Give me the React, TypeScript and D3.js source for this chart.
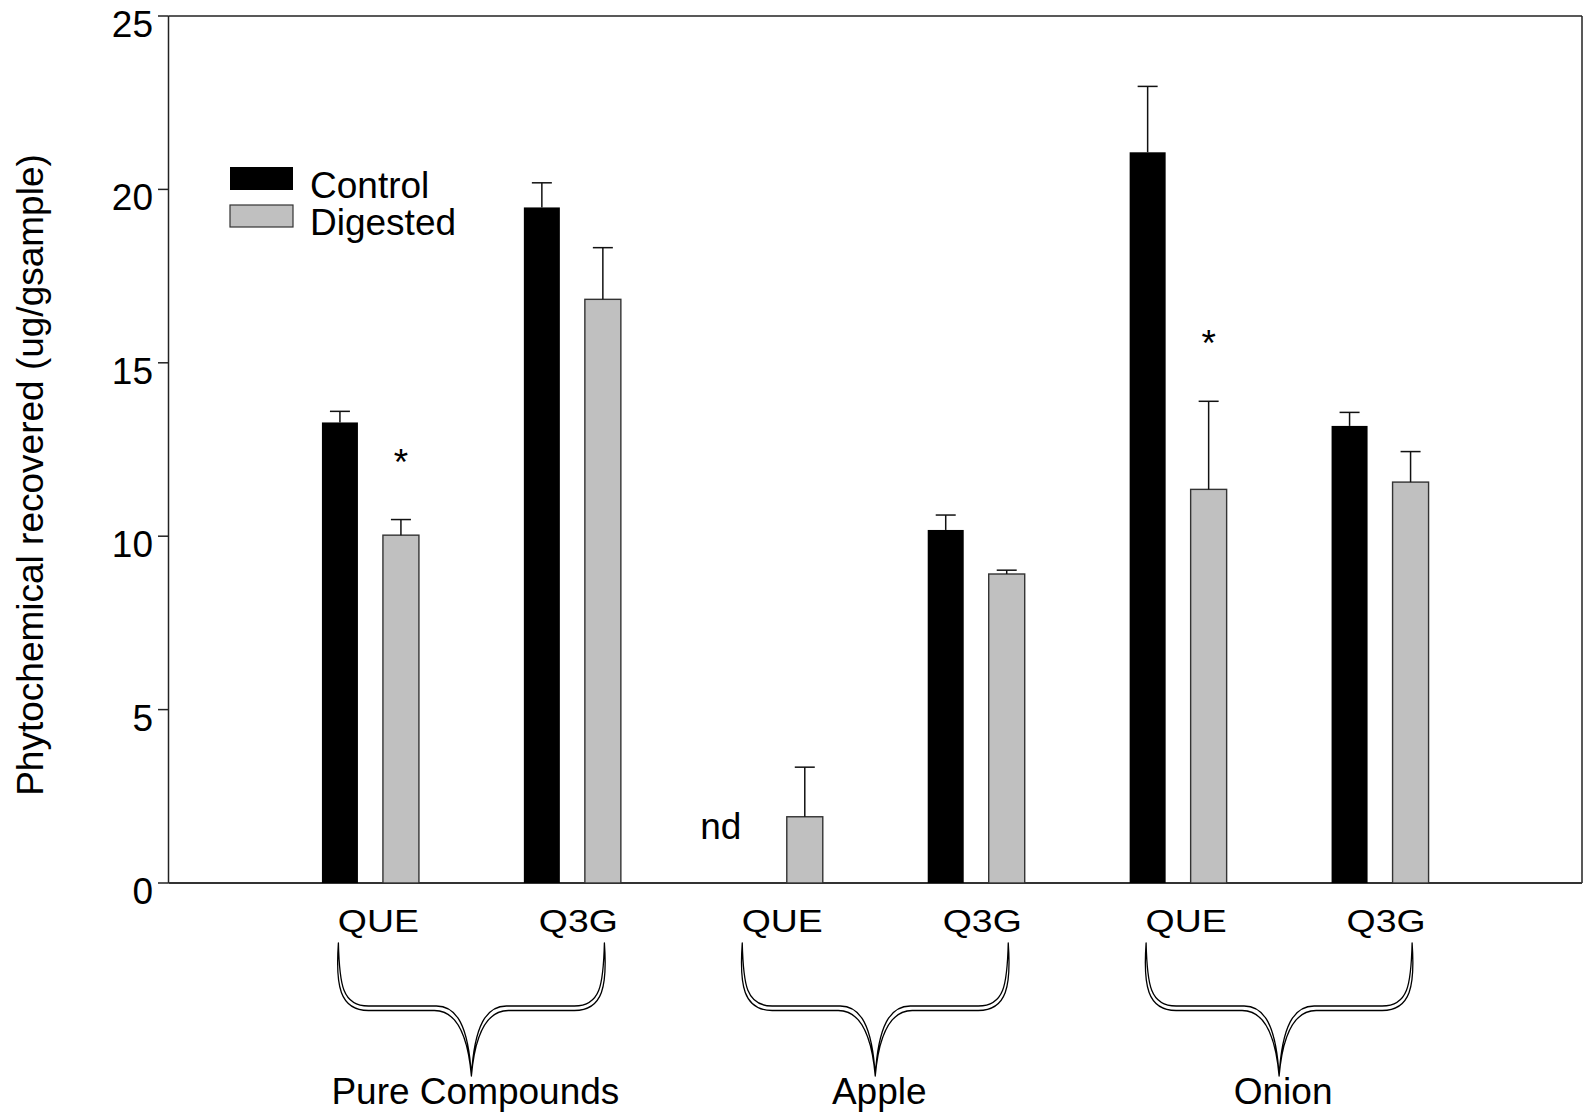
import React from "react";
import * as d3 from "d3";

// Samples along the x axis (two compounds for each source)
const categories = ["Pure-QUE", "Pure-Q3G", "Apple-QUE", "Apple-Q3G", "Onion-QUE", "Onion-Q3G"];
const compoundLabels = ["QUE", "Q3G", "QUE", "Q3G", "QUE", "Q3G"];
const groupLabels = ["Pure Compounds", "Apple", "Onion"];

// Phytochemical recovered (ug/g sample); null = not detected
const controlMeans: (number | null)[] = [13.28, 19.48, null, 10.18, 21.07, 13.18];
const controlErrors = [0.32, 0.71, 0, 0.43, 1.9, 0.39];
const digestedMeans: (number | null)[] = [10.03, 16.83, 1.91, 8.91, 11.35, 11.56];
const digestedErrors = [0.45, 1.49, 1.43, 0.11, 2.54, 0.88];
// Digested samples significantly different from control
const significant = ["Pure-QUE", "Onion-QUE"];

const yTicks = [0, 5, 10, 15, 20, 25];
const seriesNames = ["Control", "Digested"];

const W = 1585;
const H = 1117;
const left = 168.5;
const right = 1582;
const top = 16;
const bottom = 883;
const FONT = "'Liberation Sans', Arial, Helvetica, sans-serif";

const x = d3.scalePoint<string>().domain(categories).range([left, right]).padding(1);
const y = d3.scaleLinear().domain([0, 25]).range([bottom, top]);
const barW = 36;
const barOffset = 30.5;
const capW = 20;

// Tapered curly brace opening upwards, tip at (cx, tipY)
function bracePath(cx: number, half: number): string {
  const topY = 943;
  const hy1 = 1006;
  const hy2 = 1010.5;
  const tipY = 1076;
  const side = (s: number) => {
    const X = (dx: number) => cx + s * dx;
    const l = -half;
    return [
      `M${X(l)},${topY}`,
      `C${X(l + 1)},${topY + 42} ${X(l + 4)},${hy1} ${X(l + 30)},${hy1}`,
      `L${X(-35)},${hy1}`,
      `C${X(-15)},${hy1} ${X(-3)},${hy1 + 19} ${X(0)},${tipY}`,
      `C${X(-4)},${hy2 + 20} ${X(-17)},${hy2} ${X(-37)},${hy2}`,
      `L${X(l + 30)},${hy2}`,
      `C${X(l + 1)},${hy2} ${X(l - 3)},${topY + 42} ${X(l)},${topY}`,
      "Z",
    ].join(" ");
  };
  return side(1) + " " + side(-1);
}

export default function App() {
  const series = [
    { means: controlMeans, errors: controlErrors, dx: -barOffset, fill: "#000000", stroke: "none" },
    { means: digestedMeans, errors: digestedErrors, dx: barOffset, fill: "#c0c0c0", stroke: "#333333" },
  ];
  const groupCenters = groupLabels.map((_, g) => ((x(categories[2 * g]) as number) + (x(categories[2 * g + 1]) as number)) / 2);
  const braceHalf = 133;

  return (
    <svg width={W} height={H} style={{ position: "absolute", left: 0, top: 0, background: "#fff" }} fontFamily={FONT}>
      {/* frame */}
      <line x1={left} x2={right} y1={top} y2={top} stroke="#222" strokeWidth={1.5} />
      <line x1={right} x2={right} y1={top} y2={bottom} stroke="#222" strokeWidth={1.5} />
      <line x1={left} x2={left} y1={top} y2={bottom} stroke="#222" strokeWidth={1.5} />
      <line x1={left} x2={right} y1={bottom} y2={bottom} stroke="#333" strokeWidth={1.8} />

      {/* y axis ticks and labels */}
      {yTicks.map((t) => (
        <g key={t}>
          <line x1={left - 10.5} x2={left} y1={y(t)} y2={y(t)} stroke="#222" strokeWidth={1.5} />
          <text x={153} y={y(t) + 21} textAnchor="end" fontSize={37} fill="#000">
            {t}
          </text>
        </g>
      ))}
      <text transform={`translate(43,475) rotate(-90)`} textAnchor="middle" fontSize={37} fill="#000">
        Phytochemical recovered (ug/gsample)
      </text>

      {/* bars with error bars */}
      {series.map((s, si) =>
        categories.map((c, i) => {
          const v = s.means[i];
          if (v === null) return null;
          const cx = (x(c) as number) + s.dx;
          const yTop = y(v);
          const yCap = y(v + s.errors[i]);
          return (
            <g key={`${si}-${c}`}>
              <rect
                x={cx - barW / 2}
                y={yTop}
                width={barW}
                height={y(0) - yTop}
                fill={s.fill}
                stroke={s.stroke}
                strokeWidth={s.stroke === "none" ? 0 : 1.4}
              />
              <line x1={cx} x2={cx} y1={yTop} y2={yCap} stroke="#111" strokeWidth={1.5} />
              <line x1={cx - capW / 2} x2={cx + capW / 2} y1={yCap} y2={yCap} stroke="#111" strokeWidth={1.5} />
            </g>
          );
        })
      )}

      {/* not detected marker */}
      {categories.map((c, i) =>
        controlMeans[i] === null ? (
          <text key={`nd-${c}`} x={(x(c) as number) - barOffset - 23} y={y(0) - 44} textAnchor="middle" fontSize={37}>
            nd
          </text>
        ) : null
      )}

      {/* significance stars */}
      {significant.map((c) => {
        const i = categories.indexOf(c);
        const v = digestedMeans[i] as number;
        return (
          <text key={`s-${c}`} x={(x(c) as number) + barOffset} y={y(v + digestedErrors[i]) - 45} textAnchor="middle" fontSize={37}>
            *
          </text>
        );
      })}

      {/* compound labels and group braces */}
      {groupLabels.map((g, gi) => {
        const cx = groupCenters[gi];
        const bl = cx - braceHalf;
        return (
          <g key={g}>
            {[0, 1].map((k) => (
              <text
                key={k}
                transform={`translate(${bl + 40 + k * 200},932) scale(1.17,1)`}
                textAnchor="middle"
                fontSize={32}
              >
                {compoundLabels[2 * gi + k]}
              </text>
            ))}
            <path d={bracePath(cx, braceHalf)} fill="#fff" stroke="#000" strokeWidth={1.3} strokeLinejoin="round" />
            <text x={cx + 4} y={1104} textAnchor="middle" fontSize={37}>
              {g}
            </text>
          </g>
        );
      })}

      {/* legend */}
      <rect x={230} y={167} width={63} height={23} fill="#000" />
      <rect x={230} y={205} width={63} height={22} fill="#c0c0c0" stroke="#333" strokeWidth={1.2} />
      <text x={310} y={198} fontSize={37}>
        {seriesNames[0]}
      </text>
      <text x={310} y={235} fontSize={37}>
        {seriesNames[1]}
      </text>
    </svg>
  );
}
